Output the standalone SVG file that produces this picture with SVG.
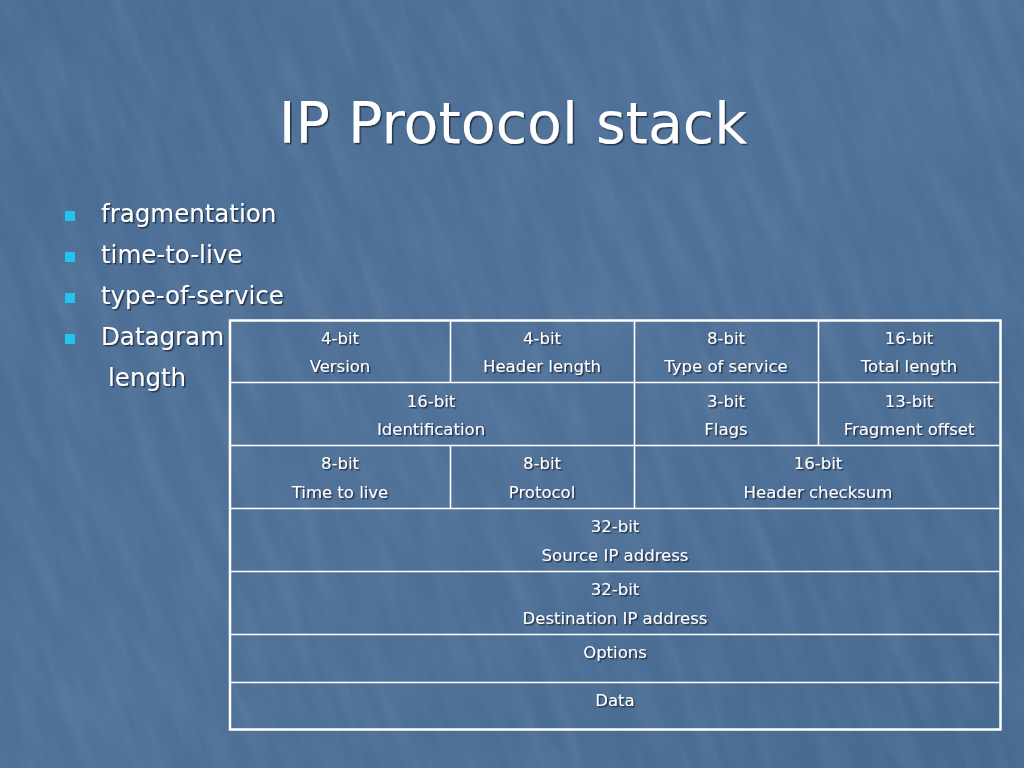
<svg xmlns="http://www.w3.org/2000/svg" width="1024" height="768" viewBox="0 0 1024 768">
<defs>
<linearGradient id="bg" x1="0" y1="0" x2="1" y2="1">
<stop offset="0" stop-color="#4a6c93"/>
<stop offset="0.5" stop-color="#4f7198"/>
<stop offset="1" stop-color="#466990"/>
</linearGradient>
<filter id="tex" x="0" y="0" width="100%" height="100%">
<feTurbulence type="fractalNoise" baseFrequency="0.05 0.01" numOctaves="3" seed="4" result="n"/>
<feColorMatrix in="n" type="matrix" values="0 0 0 0 1  0 0 0 0 1  0 0 0 0 1  0 0 0 0.35 -0.12" result="w"/>
<feComposite in="w" in2="SourceGraphic" operator="in"/>
</filter>
<filter id="sh" x="-10%" y="-10%" width="130%" height="140%">
<feDropShadow dx="1.5" dy="1.5" stdDeviation="0.6" flood-color="#1a2a40" flood-opacity="0.85"/>
</filter>
<clipPath id="clip"><rect x="0" y="0" width="1024" height="768"/></clipPath>
<style>
.t{font-family:"DejaVu Sans","Liberation Sans",sans-serif;fill:#ffffff;}
.cell{font-size:16.5px;text-anchor:middle;}
.bul{font-size:24.5px;}
.grid{stroke:#ffffff;fill:none;}
.b{fill:#22c4ee;}
</style>
</defs>
<rect x="0" y="0" width="1024" height="768" fill="url(#bg)"/>
<g clip-path="url(#clip)">
<rect x="-400" y="-400" width="1900" height="1700" fill="#ffffff" filter="url(#tex)" opacity="0.35" transform="rotate(-20 512 384)"/>
</g>

<g id="title" filter="url(#sh)">
<text class="t" x="513" y="143" font-size="57" text-anchor="middle">IP Protocol stack</text>
</g>

<g id="bullets">
<rect class="b" x="65" y="211" width="10" height="10"/>
<rect class="b" x="65" y="252" width="10" height="10"/>
<rect class="b" x="65" y="293" width="10" height="10"/>
<rect class="b" x="65" y="334" width="10" height="10"/>
<g filter="url(#sh)">
<text class="t bul" x="101" y="222">fragmentation</text>
<text class="t bul" x="101" y="263">time-to-live</text>
<text class="t bul" x="101" y="304">type-of-service</text>
<text class="t bul" x="101" y="345">Datagram</text>
<text class="t bul" x="108" y="386">length</text>
</g>
</g>

<g id="table-grid">
<rect class="grid" x="230" y="320.5" width="770.5" height="409" stroke-width="2.5"/>
<line class="grid" x1="229" y1="382.5" x2="1001" y2="382.5" stroke-width="1.6"/>
<line class="grid" x1="229" y1="445.5" x2="1001" y2="445.5" stroke-width="1.6"/>
<line class="grid" x1="229" y1="508.5" x2="1001" y2="508.5" stroke-width="1.6"/>
<line class="grid" x1="229" y1="571.5" x2="1001" y2="571.5" stroke-width="1.6"/>
<line class="grid" x1="229" y1="634.5" x2="1001" y2="634.5" stroke-width="1.6"/>
<line class="grid" x1="229" y1="682.5" x2="1001" y2="682.5" stroke-width="1.6"/>
<line class="grid" x1="450.5" y1="320" x2="450.5" y2="382.5" stroke-width="1.6"/>
<line class="grid" x1="450.5" y1="445.5" x2="450.5" y2="508.5" stroke-width="1.6"/>
<line class="grid" x1="634.5" y1="320" x2="634.5" y2="508.5" stroke-width="1.6"/>
<line class="grid" x1="818.5" y1="320" x2="818.5" y2="445.5" stroke-width="1.6"/>
</g>

<g id="cells" filter="url(#sh)">
<g id="version"><text class="t cell" x="340" y="344">4-bit</text><text class="t cell" x="340" y="372">Version</text></g>
<g id="header-length"><text class="t cell" x="542" y="344">4-bit</text><text class="t cell" x="542" y="372">Header length</text></g>
<g id="tos"><text class="t cell" x="726" y="344">8-bit</text><text class="t cell" x="726" y="372">Type of service</text></g>
<g id="total-length"><text class="t cell" x="909" y="344">16-bit</text><text class="t cell" x="909" y="372">Total length</text></g>
<g id="identification"><text class="t cell" x="431" y="407">16-bit</text><text class="t cell" x="431" y="435">Identification</text></g>
<g id="flags"><text class="t cell" x="726" y="407">3-bit</text><text class="t cell" x="726" y="435">Flags</text></g>
<g id="frag-offset"><text class="t cell" x="909" y="407">13-bit</text><text class="t cell" x="909" y="435">Fragment offset</text></g>
<g id="ttl"><text class="t cell" x="340" y="469">8-bit</text><text class="t cell" x="340" y="498">Time to live</text></g>
<g id="protocol"><text class="t cell" x="542" y="469">8-bit</text><text class="t cell" x="542" y="498">Protocol</text></g>
<g id="checksum"><text class="t cell" x="818" y="469">16-bit</text><text class="t cell" x="818" y="498">Header checksum</text></g>
<g id="src"><text class="t cell" x="615" y="532">32-bit</text><text class="t cell" x="615" y="561">Source IP address</text></g>
<g id="dst"><text class="t cell" x="615" y="595">32-bit</text><text class="t cell" x="615" y="624">Destination IP address</text></g>
<g id="options"><text class="t cell" x="615" y="658">Options</text></g>
<g id="data"><text class="t cell" x="615" y="706">Data</text></g>
</g>
</svg>
